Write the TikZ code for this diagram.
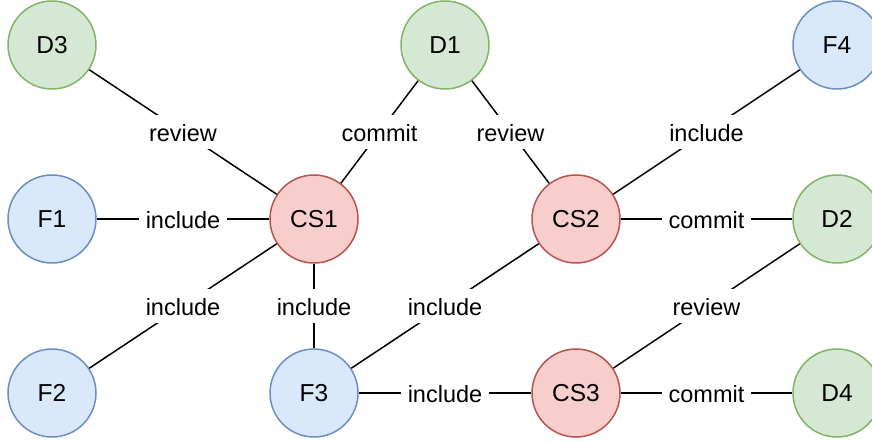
\documentclass[tikz,border=0pt]{standalone}
\usepackage{fontspec}
\setmainfont{Liberation Sans}
\definecolor{greenfill}{HTML}{D5E8D4}
\definecolor{greenline}{HTML}{82B366}
\definecolor{bluefill}{HTML}{DAE8FC}
\definecolor{blueline}{HTML}{6C8EBF}
\definecolor{redfill}{HTML}{F8CECC}
\definecolor{redline}{HTML}{B85450}
\begin{document}
\begin{tikzpicture}[x=1pt,y=-1pt,
  vertex/.style={circle,minimum size=88pt,inner sep=0pt,line width=1.5pt,
    font=\fontsize{24.5}{29}\selectfont},
  doc/.style={vertex,draw=greenline,fill=greenfill},
  feat/.style={vertex,draw=blueline,fill=bluefill},
  cset/.style={vertex,draw=redline,fill=redfill},
  link/.style={line width=1.5pt,black},
  lbl/.style={fill=white,inner xsep=6.5pt,inner ysep=6pt,text height=20.5pt,
    text depth=1.5pt,font=\fontsize{23.5}{28}\selectfont}]
\useasboundingbox (0,0) rectangle (872,443);

% documents, features and change sets
\node[doc]  (D3)  at (52,45)   {D3};
\node[doc]  (D1)  at (445,45)  {D1};
\node[feat] (F4)  at (837,45)  {F4};
\node[feat] (F1)  at (52,219)  {F1};
\node[cset] (CS1) at (314,219) {CS1};
\node[cset] (CS2) at (576,219) {CS2};
\node[doc]  (D2)  at (837,219) {D2};
\node[feat] (F2)  at (52,393)  {F2};
\node[feat] (F3)  at (314,393) {F3};
\node[cset] (CS3) at (576,393) {CS3};
\node[doc]  (D4)  at (837,393) {D4};

% relations
\draw[link] (D3)  -- node[lbl]{review}  (CS1);
\draw[link] (D1)  -- node[lbl]{commit}  (CS1);
\draw[link] (D1)  -- node[lbl]{review}  (CS2);
\draw[link] (F4)  -- node[lbl]{include} (CS2);
\draw[link] (F1)  -- node[lbl]{include} (CS1);
\draw[link] (CS2) -- node[lbl]{commit}  (D2);
\draw[link] (F2)  -- node[lbl]{include} (CS1);
\draw[link] (CS1) -- node[lbl]{include} (F3);
\draw[link] (F3)  -- node[lbl]{include} (CS2);
\draw[link] (D2)  -- node[lbl]{review}  (CS3);
\draw[link] (F3)  -- node[lbl]{include} (CS3);
\draw[link] (CS3) -- node[lbl]{commit}  (D4);
\end{tikzpicture}
\end{document}
